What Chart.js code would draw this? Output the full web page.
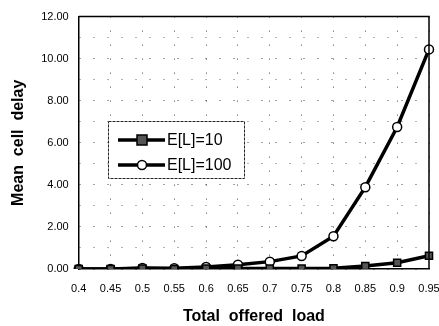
<!DOCTYPE html>
<html>
<head>
<meta charset="utf-8">
<script src="https://cdn.jsdelivr.net/npm/chart.js@4/dist/chart.umd.min.js"></script>
<style>
html,body{margin:0;padding:0;background:#fff;}
#wrap{width:439px;height:326px;position:relative;}
</style>
</head>
<body>
<div id="wrap"><canvas id="c" width="439" height="326"></canvas></div>
<script>
const categories = ["0.4","0.45","0.5","0.55","0.6","0.65","0.7","0.75","0.8","0.85","0.9","0.95"];
const seriesL10  = [0.00, 0.00, 0.02, 0.00, 0.02, 0.02, 0.02, 0.02, 0.03, 0.14, 0.30, 0.63];
const seriesL100 = [0.00, 0.00, 0.05, 0.03, 0.10, 0.20, 0.35, 0.62, 1.56, 3.89, 6.75, 10.44];
const yTickValues = [0, 2, 4, 6, 8, 10, 12];
const seriesNames = ["E[L]=10", "E[L]=100"];

const FONT = "'Liberation Sans', Arial, sans-serif";

const legendPlugin = {
  id: 'innerLegend',
  afterDraw(chart) {
    const ctx = chart.ctx;
    ctx.save();
    const bx = 108, by = 121, bw = 136, bh = 57;
    ctx.fillStyle = '#fff';
    ctx.fillRect(bx, by, bw, bh);
    ctx.strokeStyle = '#222';
    ctx.lineWidth = 1;
    ctx.setLineDash([3, 1]);
    ctx.strokeRect(bx + 0.5, by + 0.5, bw, bh);
    ctx.setLineDash([]);
    const rows = [140, 165];
    chart.data.datasets.forEach((ds, i) => {
      const y = rows[i];
      ctx.strokeStyle = '#000';
      ctx.lineWidth = 3.5;
      ctx.beginPath();
      ctx.moveTo(118, y);
      ctx.lineTo(165, y);
      ctx.stroke();
      ctx.fillStyle = ds.pointBackgroundColor;
      ctx.strokeStyle = ds.pointBorderColor;
      ctx.lineWidth = ds.pointBorderWidth;
      ctx.beginPath();
      if (ds.pointStyle === 'rect') {
        const r = ds.pointRadius;
        ctx.rect(142 - r, y - r, 2 * r, 2 * r);
      } else {
        ctx.arc(142, y, ds.pointRadius, 0, Math.PI * 2);
      }
      ctx.fill();
      ctx.stroke();
      ctx.fillStyle = '#000';
      ctx.font = '16px ' + FONT;
      ctx.textBaseline = 'middle';
      ctx.textAlign = 'left';
      ctx.fillText(ds.label, 167, y + 1);
    });
    ctx.restore();
  }
};

const borderPlugin = {
  id: 'plotBorder',
  afterDatasetsDraw(chart) {
    const a = chart.chartArea, ctx = chart.ctx;
    ctx.save();
    ctx.strokeStyle = '#000';
    ctx.lineWidth = 1.5;
    ctx.beginPath();
    ctx.moveTo(a.left, a.top);
    ctx.lineTo(a.right, a.top);
    ctx.lineTo(a.right, a.bottom);
    ctx.stroke();
    ctx.restore();
  }
};

new Chart(document.getElementById('c'), {
  type: 'line',
  data: {
    labels: categories,
    datasets: [
      {
        label: seriesNames[0],
        data: seriesL10,
        borderColor: '#000',
        borderWidth: 3.5,
        pointStyle: 'rect',
        pointRadius: 5,
        pointBackgroundColor: '#555',
        pointBorderColor: '#000',
        pointBorderWidth: 1.5,
        tension: 0
      },
      {
        label: seriesNames[1],
        data: seriesL100,
        borderColor: '#000',
        borderWidth: 3.5,
        pointStyle: 'circle',
        pointRadius: 4.5,
        pointBackgroundColor: '#fff',
        pointBorderColor: '#000',
        pointBorderWidth: 1.5,
        tension: 0
      }
    ]
  },
  options: {
    responsive: false,
    animation: false,
    devicePixelRatio: 1,
    layout: { padding: { left: 9, right: 0, top: 6, bottom: 0 } },
    plugins: { legend: { display: false }, tooltip: { enabled: false } },
    scales: {
      x: {
        type: 'category',
        offset: false,
        afterFit(scale) {
          scale.paddingRight = 10;
          scale.height = 57;
        },
        grid: {
          display: true,
          color: '#444',
          lineWidth: 1,
          drawTicks: false
        },
        border: { display: true, color: '#000', width: 1.5, dash: [1, 13] },
        ticks: {
          color: '#000',
          font: { family: FONT, size: 11 },
          padding: 13,
          maxRotation: 0,
          autoSkip: false
        },
        title: {
          display: true,
          text: 'Total  offered  load',
          color: '#000',
          font: { family: FONT, size: 16, weight: 'bold' },
          padding: { top: 0, bottom: 0 }
        }
      },
      y: {
        min: 0,
        max: 12,
        afterBuildTicks(axis) {
          const t = [];
          for (let v = 0; v <= 12; v += 1) t.push({ value: v });
          axis.ticks = t;
        },
        grid: {
          color: (ctx) => (ctx.tick && ctx.tick.value % 2 === 0) ? '#444' : '#666',
          lineWidth: 1,
          drawTicks: false
        },
        border: { display: true, color: '#000', width: 1.5, dash: [1, 13] },
        ticks: {
          color: '#000',
          font: { family: FONT, size: 11 },
          padding: 10,
          callback: (v) => yTickValues.includes(v) ? v.toFixed(2) : ''
        },
        title: {
          display: true,
          text: 'Mean  cell  delay',
          color: '#000',
          font: { family: FONT, size: 16, weight: 'bold' },
          padding: { top: 0, bottom: 3 }
        }
      }
    }
  },
  plugins: [borderPlugin, legendPlugin]
});
</script>
</body>
</html>
